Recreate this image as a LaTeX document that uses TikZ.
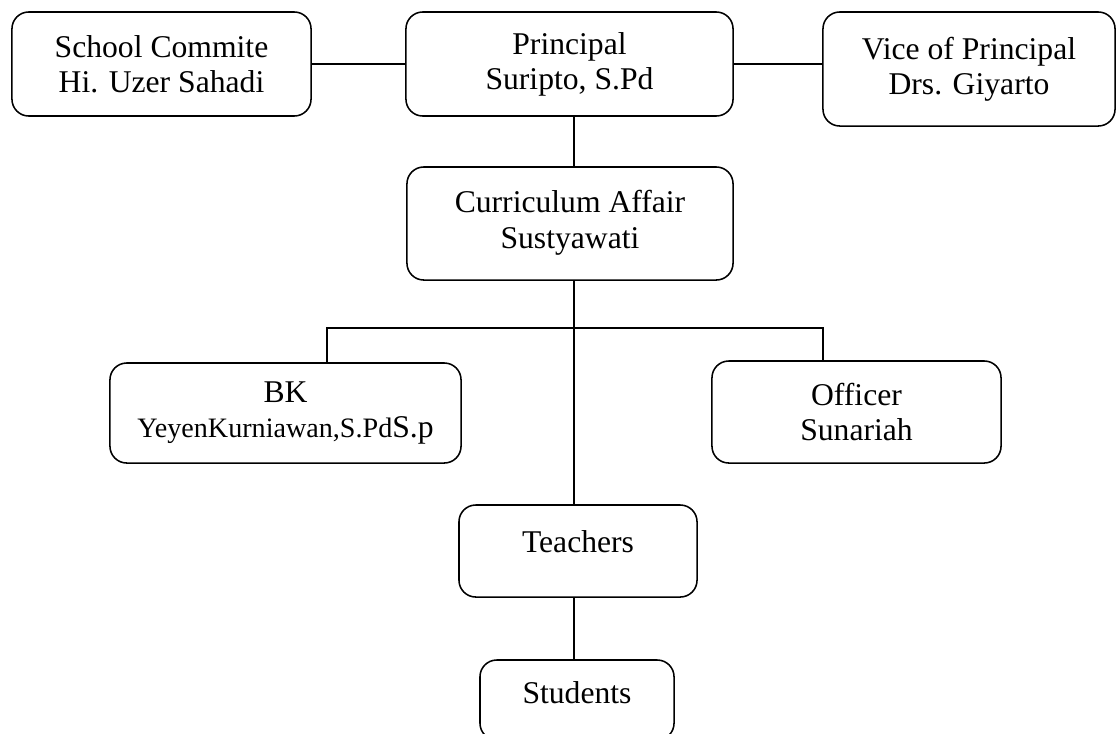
\documentclass[tikz,border=0pt]{standalone}
\usepackage{fontspec}
\setmainfont{Liberation Serif}
\begin{document}
\begin{tikzpicture}[x=0.025cm,y=-0.025cm,
        box/.style={draw,line width=1.1pt,rounded corners=0.42cm,align=center,inner sep=2pt,
          font=\fontsize{22.5}{25}\selectfont},
        link/.style={line width=1.1pt}]
        \useasboundingbox (0,0) rectangle (1116,733);
        % top row
        \node[box,minimum width=7.475cm,minimum height=2.6cm] (committee) at (161.5,64) {School Commite\\Hi. Uzer Sahadi};
        \node[box,minimum width=8.175cm,minimum height=2.6cm] (principal) at (569.5,64) {Principal\\Suripto, S.Pd};
        \node[box,minimum width=7.3cm,minimum height=2.85cm] (vice) at (969,69) {Vice of Principal\\Drs. Giyarto};
        % middle
        \node[box,minimum width=8.15cm,minimum height=2.825cm] (curriculum) at (570,223.5)
          {\raisebox{17pt}{\begin{tabular}{@{}c@{}}Curriculum Affair\\Sustyawati\end{tabular}}};
        \node[box,minimum width=8.775cm,minimum height=2.5cm] (bk) at (285.5,413)
          {BK\\{\fontsize{20}{25}\selectfont YeyenKurniawan,S.Pd}S.p};
        \node[box,minimum width=7.225cm,minimum height=2.55cm] (officer) at (856.5,412) {Officer\\Sunariah};
        % bottom
        \node[box,minimum width=5.95cm,minimum height=2.3cm] (teachers) at (578,551) {\raisebox{13pt}{Teachers}};
        \node[box,minimum width=4.85cm,minimum height=2cm] (students) at (577,700) {\raisebox{10pt}{Students}};
        % lines
        \coordinate (trunk) at (574,328);
        \coordinate (busL) at (327,328);
        \coordinate (busR) at (823,328);
        \draw[link] (committee.east) -- (principal.west);
        \draw[link] (principal.east) -- (principal.east -| vice.west);
        \draw[link] (principal.south -| trunk) -- (curriculum.north -| trunk);
        \draw[link] (curriculum.south -| trunk) -- (teachers.north -| trunk);
        \draw[link] (teachers.south -| trunk) -- (students.north -| trunk);
        \draw[link] (bk.north -| busL) -- (busL) -- (busR) -- (officer.north -| busR);
\end{tikzpicture}
\end{document}
